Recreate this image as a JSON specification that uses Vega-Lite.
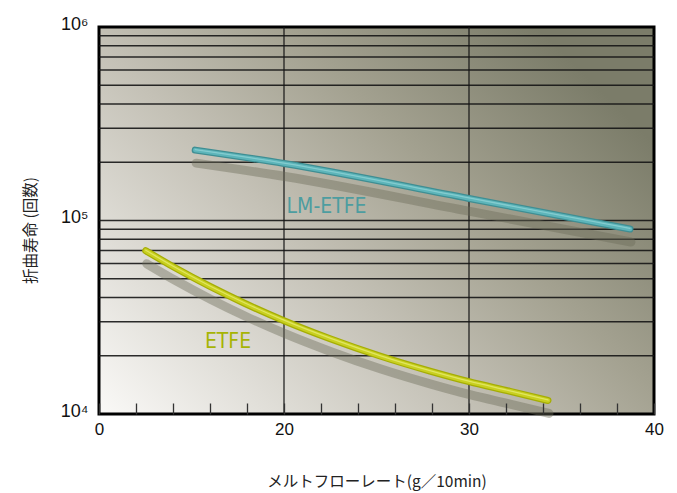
{
  "$schema": "https://vega.github.io/schema/vega-lite/v6.json",
  "width": 555,
  "height": 387,
  "autosize": "none",
  "padding": {"left": 99, "top": 27, "right": 23, "bottom": 79},
  "background": "white",
  "config": {"view": {"stroke": null}},
  "datasets": {
    "curves": [
      {"series": "LM-ETFE", "mfr": 10.4, "life": 231000},
      {"series": "LM-ETFE", "mfr": 20, "life": 197000},
      {"series": "LM-ETFE", "mfr": 30, "life": 130000},
      {"series": "LM-ETFE", "mfr": 38.7, "life": 90400},
      {"series": "ETFE", "mfr": 5.05, "life": 69800},
      {"series": "ETFE", "mfr": 8.22, "life": 56960},
      {"series": "ETFE", "mfr": 12.0, "life": 45600},
      {"series": "ETFE", "mfr": 15.78, "life": 37250},
      {"series": "ETFE", "mfr": 20, "life": 30350},
      {"series": "ETFE", "mfr": 22.49, "life": 24500},
      {"series": "ETFE", "mfr": 25.19, "life": 19930},
      {"series": "ETFE", "mfr": 27.89, "life": 16660},
      {"series": "ETFE", "mfr": 30, "life": 14690},
      {"series": "ETFE", "mfr": 32.22, "life": 13100},
      {"series": "ETFE", "mfr": 34.27, "life": 11745}
    ],
    "hgrid": [
      {"v": 20000}, {"v": 30000}, {"v": 40000}, {"v": 50000}, {"v": 60000}, {"v": 70000}, {"v": 80000}, {"v": 90000},
      {"v": 100000},
      {"v": 200000}, {"v": 300000}, {"v": 400000}, {"v": 500000}, {"v": 600000}, {"v": 700000}, {"v": 800000}, {"v": 900000}
    ],
    "vgrid": [{"v": 20}, {"v": 30}],
    "labels": [
      {"series": "LM-ETFE", "mfr": 22.3, "life": 117500},
      {"series": "ETFE", "mfr": 13.95, "life": 23500}
    ]
  },
  "resolve": {"scale": {"color": "independent"}},
  "layer": [
    {
      "data": {"values": [{}]},
      "mark": {
        "type": "rect",
        "stroke": "#000000",
        "strokeWidth": 3,
        "fill": {
          "gradient": "linear",
          "x1": 0, "y1": 1, "x2": 1, "y2": 0.3,
          "stops": [
            {"offset": 0, "color": "#faf9f7"},
            {"offset": 0.45, "color": "#c4c1b6"},
            {"offset": 0.7, "color": "#a3a190"},
            {"offset": 1, "color": "#7b7c69"}
          ]
        }
      },
      "encoding": {
        "x": {"datum": 0, "type": "quantitative", "scale": {"domain": [0, 20, 30, 40], "range": [0, 185, 370, 555], "nice": false, "zero": false},
          "axis": {
            "values": [0, 4, 8, 12, 16, 20, 22, 24, 26, 28, 30, 32, 34, 36, 38, 40],
            "tickCount": 30,
            "labelOverlap": false,
            "labelExpr": "(datum.value == 0 || datum.value == 20 || datum.value == 30 || datum.value == 40) ? datum.label : ''",
            "labelFlush": false,
            "grid": false,
            "domain": false,
            "tickSize": -11,
            "tickColor": "#333333",
            "tickWidth": 1.3,
            "labelPadding": 18,
            "labelFont": "Liberation Sans",
            "labelFontSize": 17,
            "labelColor": "#111111",
            "title": "メルトフローレート(g／10min)",
            "titleFont": "Noto Sans CJK JP",
            "titleFontSize": 15.5,
            "titleFontWeight": "normal",
            "titleColor": "#222222",
            "titleBaseline": "top",
            "titleY": 60,
            "zindex": 1
          }
        },
        "x2": {"datum": 40},
        "y": {"datum": 10000, "type": "quantitative", "scale": {"type": "log", "domain": [10000, 1000000], "nice": false},
          "axis": {
            "values": [10000, 100000, 1000000],
            "labelExpr": "datum.value == 10000 ? '10⁴' : (datum.value == 100000 ? '10⁵' : '10⁶')",
            "labelFlush": false,
            "grid": false,
            "domain": false,
            "ticks": false,
            "labelPadding": 11,
            "labelOffset": -3,
            "labelBaseline": "middle",
            "labelFont": "Liberation Sans",
            "labelFontSize": 18,
            "labelColor": "#111111",
            "title": "折曲寿命 (回数)",
            "titleFont": "Noto Sans CJK JP",
            "titleFontSize": 15.5,
            "titleFontWeight": "normal",
            "titleColor": "#222222",
            "titleX": -69,
            "titleY": 203,
            "titleBaseline": "middle",
            "titleAlign": "center"
          }
        },
        "y2": {"datum": 1000000}
      }
    },
    {
      "data": {"name": "hgrid"},
      "mark": {"type": "rule", "color": "#151515", "strokeWidth": 1.5, "opacity": 0.9},
      "encoding": {"y": {"field": "v", "type": "quantitative"}}
    },
    {
      "data": {"name": "vgrid"},
      "mark": {"type": "rule", "color": "#151515", "strokeWidth": 1.4, "opacity": 0.85},
      "encoding": {"x": {"field": "v", "type": "quantitative"}}
    },
    {
      "data": {"name": "curves"},
      "mark": {"type": "line", "color": "#6b6b58", "opacity": 0.42, "strokeWidth": 9, "strokeCap": "round", "interpolate": "monotone", "yOffset": 13, "xOffset": 1},
      "encoding": {
        "x": {"field": "mfr", "type": "quantitative"},
        "y": {"field": "life", "type": "quantitative"},
        "detail": {"field": "series"}
      }
    },
    {
      "data": {"name": "curves"},
      "mark": {"type": "line", "strokeWidth": 7, "strokeCap": "round", "interpolate": "monotone"},
      "encoding": {
        "x": {"field": "mfr", "type": "quantitative"},
        "y": {"field": "life", "type": "quantitative"},
        "color": {"field": "series", "type": "nominal", "scale": {"domain": ["LM-ETFE", "ETFE"], "range": ["#3f8e93", "#a5ad05"]}, "legend": null}
      }
    },
    {
      "data": {"name": "curves"},
      "mark": {"type": "line", "strokeWidth": 4.5, "strokeCap": "round", "interpolate": "monotone"},
      "encoding": {
        "x": {"field": "mfr", "type": "quantitative"},
        "y": {"field": "life", "type": "quantitative"},
        "color": {"field": "series", "type": "nominal", "scale": {"domain": ["LM-ETFE", "ETFE"], "range": ["#5db5ba", "#c9d020"]}, "legend": null}
      }
    },
    {
      "data": {"name": "curves"},
      "mark": {"type": "line", "strokeWidth": 1.3, "strokeCap": "round", "interpolate": "monotone", "yOffset": -0.5, "opacity": 0.8},
      "encoding": {
        "x": {"field": "mfr", "type": "quantitative"},
        "y": {"field": "life", "type": "quantitative"},
        "color": {"field": "series", "type": "nominal", "scale": {"domain": ["LM-ETFE", "ETFE"], "range": ["#8fd2d5", "#e6eb70"]}, "legend": null}
      }
    },
    {
      "data": {"name": "labels"},
      "mark": {"type": "text", "font": "Liberation Sans Narrow, DejaVu Sans Condensed, Roboto", "fontSize": 21, "align": "center", "baseline": "middle"},
      "encoding": {
        "x": {"field": "mfr", "type": "quantitative"},
        "y": {"field": "life", "type": "quantitative"},
        "text": {"field": "series"},
        "color": {"field": "series", "type": "nominal", "scale": {"domain": ["LM-ETFE", "ETFE"], "range": ["#4d9da0", "#a6b404"]}, "legend": null}
      }
    }
  ]
}
